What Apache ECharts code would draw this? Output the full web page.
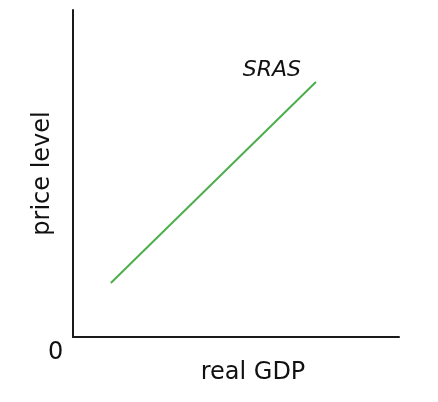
<!DOCTYPE html>
<html>
<head>
<meta charset="utf-8">
<script src="https://cdn.jsdelivr.net/npm/echarts@6/dist/echarts.min.js"></script>
<style>
  html, body { margin: 0; padding: 0; background: #fff; }
  #chart { width: 438px; height: 402px; }
</style>
</head>
<body>
<div id="chart"></div>
<script>
// SRAS curve, two end points (real GDP, price level) on a 0..100 scale
const gdpValues = [11.6, 74.5]
const priceValues = [16.5, 78]
const curveName = 'SRAS'

const font = 'DejaVu Sans'
const chart = echarts.init(document.getElementById('chart'))

const last = gdpValues.length - 1

chart.setOption({
  animation: false,
  grid: { left: 73, right: 39, top: 10, bottom: 65 },
  xAxis: {
    type: 'value',
    min: 0,
    max: 100,
    name: 'real GDP',
    nameLocation: 'middle',
    nameGap: 24,
    nameTextStyle: { fontFamily: font, fontSize: 24, color: '#111', padding: [0, 0, 0, 34] },
    axisLine: { show: true, lineStyle: { color: '#1a1a1a', width: 2 } },
    axisTick: { show: false },
    axisLabel: { show: false },
    splitLine: { show: false }
  },
  yAxis: {
    type: 'value',
    min: 0,
    max: 100,
    name: 'price level',
    nameLocation: 'middle',
    nameGap: 18,
    nameTextStyle: { fontFamily: font, fontSize: 24, color: '#111' },
    axisLine: { show: true, lineStyle: { color: '#1a1a1a', width: 2 } },
    axisTick: { show: false },
    axisLabel: { show: false },
    splitLine: { show: false }
  },
  graphic: [{
    type: 'text',
    left: 48,
    top: 341,
    style: { text: '0', font: '24px "DejaVu Sans"', fill: '#111' }
  }],
  series: [{
    name: curveName,
    type: 'line',
    data: gdpValues.map((g, i) => [g, priceValues[i]]),
    symbol: 'none',
    lineStyle: { color: '#4cae4c', width: 2 },
    markPoint: {
      symbol: 'circle',
      symbolSize: 0,
      data: [{ coord: [gdpValues[last], priceValues[last]], value: curveName }],
      label: {
        show: true,
        formatter: curveName,
        position: 'inside',
        offset: [-44, -12],
        fontFamily: font,
        fontStyle: 'italic',
        fontSize: 22,
        color: '#111'
      }
    }
  }]
})
</script>
</body>
</html>
